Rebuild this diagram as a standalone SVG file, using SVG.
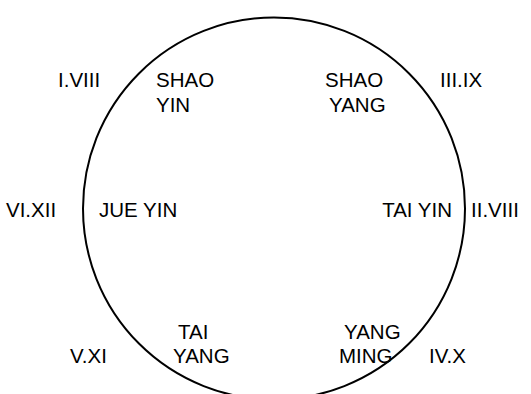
<svg xmlns="http://www.w3.org/2000/svg" width="531" height="394" viewBox="0 0 531 394">
<style>
text{font-family:"Liberation Sans",Arial,sans-serif;font-size:20.5px;fill:#000}
.c{fill:none;stroke:#000;stroke-width:2}
</style>
<rect width="531" height="394" fill="#fff"/>
<g id="connectors">
<circle class="c" cx="274" cy="208.5" r="191"/>
</g>
<g id="n-i-viii"><text x="58" y="86.5">I.VIII</text></g>
<g id="n-shao-yin"><text x="156" y="86.5">SHAO</text><text x="156" y="112">YIN</text></g>
<g id="n-shao-yang"><text x="325" y="86.5">SHAO</text><text x="329" y="112">YANG</text></g>
<g id="n-iii-ix"><text x="440" y="86.5">III.IX</text></g>
<g id="n-vi-xii"><text x="6" y="217">VI.XII</text></g>
<g id="n-jue-yin"><text x="99" y="217">JUE YIN</text></g>
<g id="n-tai-yin"><text x="452" y="217" text-anchor="end">TAI YIN</text></g>
<g id="n-ii-viii"><text x="471" y="217">II.VIII</text></g>
<g id="n-tai-yang"><text x="178" y="338.5">TAI</text><text x="173" y="363">YANG</text></g>
<g id="n-v-xi"><text x="70" y="363">V.XI</text></g>
<g id="n-yang-ming"><text x="344" y="338.5">YANG</text><text x="339" y="363">MING</text></g>
<g id="n-iv-x"><text x="429" y="363">IV.X</text></g>
</svg>
